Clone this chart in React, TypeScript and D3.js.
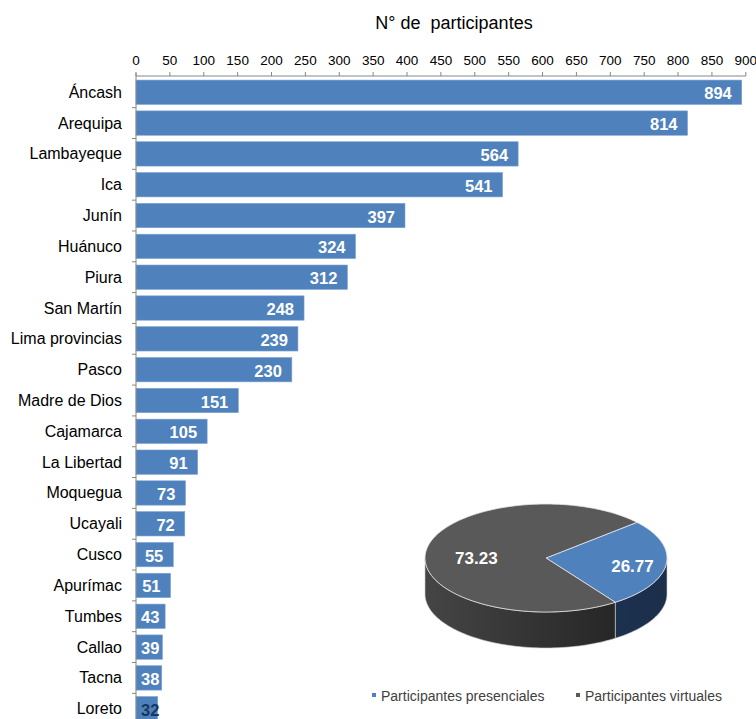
import * as d3 from 'd3';
import { useRef, useEffect } from 'react';

const categories = ['Áncash', 'Arequipa', 'Lambayeque', 'Ica', 'Junín', 'Huánuco', 'Piura', 'San Martín', 'Lima provincias', 'Pasco', 'Madre de Dios', 'Cajamarca', 'La Libertad', 'Moquegua', 'Ucayali', 'Cusco', 'Apurímac', 'Tumbes', 'Callao', 'Tacna', 'Loreto'];
const participants = [894, 814, 564, 541, 397, 324, 312, 248, 239, 230, 151, 105, 91, 73, 72, 55, 51, 43, 39, 38, 32];
const xTickValues = [0, 50, 100, 150, 200, 250, 300, 350, 400, 450, 500, 550, 600, 650, 700, 750, 800, 850, 900];

const pieLabels = ['Participantes presenciales', 'Participantes virtuales'];
const pieValues = [26.77, 73.23];

const FONT = '"Liberation Sans", Arial, sans-serif';

const App = () => {
    const svgRef = useRef<SVGSVGElement | null>(null);

    useEffect(() => {
        const W = 756, H = 719;
        const svg = d3.select(svgRef.current);
        svg.selectAll('*').remove();
        svg.attr('width', W).attr('height', H);

        // --- bar chart ---
        const x = d3.scaleLinear().domain([0, 900]).range([136, 745.8]);
        const y = d3.scaleBand().domain(categories).range([77, 724]).paddingInner(0.21).paddingOuter(0.1);

        svg.append('text')
            .attr('x', 454).attr('y', 29)
            .attr('text-anchor', 'middle')
            .style('font-family', FONT).style('font-size', '18px')
            .style('white-space', 'pre')
            .text('N° de  participantes');

        // top axis
        const axisY = 76;
        const top = svg.append('g');
        top.append('line')
            .attr('x1', x(0)).attr('x2', x(900)).attr('y1', axisY).attr('y2', axisY)
            .attr('stroke', '#868686');
        top.selectAll('line.tick').data(xTickValues).enter().append('line')
            .attr('class', 'tick')
            .attr('x1', d => x(d)).attr('x2', d => x(d))
            .attr('y1', axisY - 4).attr('y2', axisY)
            .attr('stroke', '#868686');
        top.selectAll('text').data(xTickValues).enter().append('text')
            .attr('x', d => x(d)).attr('y', 60)
            .attr('text-anchor', 'middle').attr('dominant-baseline', 'central')
            .style('font-family', FONT).style('font-size', '13.5px')
            .text(d => d);

        // bars
        svg.selectAll('rect.bar').data(participants).enter().append('rect')
            .attr('class', 'bar')
            .attr('x', x(0))
            .attr('y', (_, i) => y(categories[i])!)
            .attr('width', d => x(d) - x(0))
            .attr('height', y.bandwidth())
            .attr('fill', '#4F81BD')
            .attr('stroke', '#7da2d2').attr('stroke-width', 0.6);

        // left axis
        const left = svg.append('g');
        left.append('line')
            .attr('x1', x(0)).attr('x2', x(0)).attr('y1', 73).attr('y2', 724)
            .attr('stroke', '#868686');
        const boundaries = categories.map(c => y(c)! - (y.step() - y.bandwidth()) / 2);
        boundaries.push(724);
        left.selectAll('line.tick').data(boundaries.slice(1)).enter().append('line')
            .attr('class', 'tick')
            .attr('x1', x(0) - 4).attr('x2', x(0))
            .attr('y1', d => d).attr('y2', d => d)
            .attr('stroke', '#868686');
        left.selectAll('text').data(categories).enter().append('text')
            .attr('x', 122)
            .attr('y', d => y(d)! + y.bandwidth() / 2)
            .attr('text-anchor', 'end').attr('dominant-baseline', 'central')
            .style('font-family', FONT).style('font-size', '16px')
            .text(d => d);

        // value labels
        svg.selectAll('text.val').data(participants).enter().append('text')
            .attr('class', 'val')
            .attr('x', d => {
                const w = String(d).length * 9.2;
                return Math.max(x(d) - 10, x(0) + 5 + w);
            })
            .attr('y', (_, i) => y(categories[i])! + y.bandwidth() / 2 + 1)
            .attr('text-anchor', 'end').attr('dominant-baseline', 'central')
            .style('font-family', FONT).style('font-size', '16.5px').style('font-weight', 'bold')
            .attr('fill', (_, i) => i === participants.length - 1 ? '#17375E' : '#fff')
            .text(d => d);

        // --- 3D pie ---
        const cx = 546, cy = 558, rx = 121, ry = 54, depth = 36;
        const pieColors = ['#4F81BD', '#595959'];
        const sideColors = [['#22395a', '#1b2f4b'], ['#454545', '#1e1e1e']];
        const start = 0.85;
        const arcs = d3.pie<number>().sort(null).startAngle(start).endAngle(start + 2 * Math.PI)(pieValues);
        const pt = (a: number, dy = 0): [number, number] => [cx + rx * Math.sin(a), cy - ry * Math.cos(a) + dy];

        const defs = svg.append('defs');
        sideColors.forEach((c, i) => {
            const g = defs.append('linearGradient').attr('id', `side${i}`)
                .attr('gradientUnits', 'userSpaceOnUse')
                .attr('x1', cx - rx).attr('x2', cx + rx).attr('y1', 0).attr('y2', 0);
            g.append('stop').attr('offset', '0%').attr('stop-color', c[0]);
            g.append('stop').attr('offset', '100%').attr('stop-color', c[1]);
        });

        const line = d3.line();
        const sample = (a0: number, a1: number, dy = 0) => {
            const n = Math.max(2, Math.ceil(Math.abs(a1 - a0) / 0.03));
            return d3.range(n + 1).map(k => pt(a0 + (a1 - a0) * k / n, dy));
        };

        // sides (front half: pi/2 .. 3pi/2)
        arcs.forEach((a, i) => {
            [0, 2 * Math.PI].forEach(off => {
                const s = Math.max(a.startAngle, Math.PI / 2 + off);
                const e = Math.min(a.endAngle, 3 * Math.PI / 2 + off);
                if (e <= s) return;
                const pts = [...sample(s, e), ...sample(e, s, depth)];
                svg.append('path')
                    .attr('d', line(pts) + 'Z')
                    .attr('fill', `url(#side${i})`)
                    .attr('stroke', '#cfcfcf').attr('stroke-width', 0.6);
            });
        });

        // top faces
        arcs.forEach((a, i) => {
            const pts: [number, number][] = [[cx, cy], ...sample(a.startAngle, a.endAngle)];
            svg.append('path')
                .attr('d', line(pts) + 'Z')
                .attr('fill', pieColors[i])
                .attr('stroke', '#e6e6e6').attr('stroke-width', 0.8);
        });

        const labelK = [0.72, 0.58];
        arcs.forEach((a, i) => {
            const m = (a.startAngle + a.endAngle) / 2;
            svg.append('text')
                .attr('x', cx + rx * labelK[i] * Math.sin(m))
                .attr('y', cy - ry * labelK[i] * Math.cos(m) + 4)
                .attr('text-anchor', 'middle').attr('dominant-baseline', 'central')
                .style('font-family', FONT).style('font-size', '17px').style('font-weight', 'bold')
                .attr('fill', '#fff')
                .text(pieValues[i].toFixed(2));
        });

        // legend
        const legendX = [372, 576];
        pieLabels.forEach((lab, i) => {
            svg.append('rect')
                .attr('x', legendX[i]).attr('y', 693).attr('width', 4).attr('height', 4)
                .attr('fill', pieColors[i]);
            svg.append('text')
                .attr('x', legendX[i] + 9).attr('y', 696)
                .attr('dominant-baseline', 'central')
                .style('font-family', FONT).style('font-size', '14px')
                .attr('fill', '#404040')
                .text(lab);
        });
    }, []);

    return (
        <svg ref={svgRef} style={{ position: 'absolute', left: 0, top: 0, background: '#fff' }}></svg>
    );
};

export default App;
